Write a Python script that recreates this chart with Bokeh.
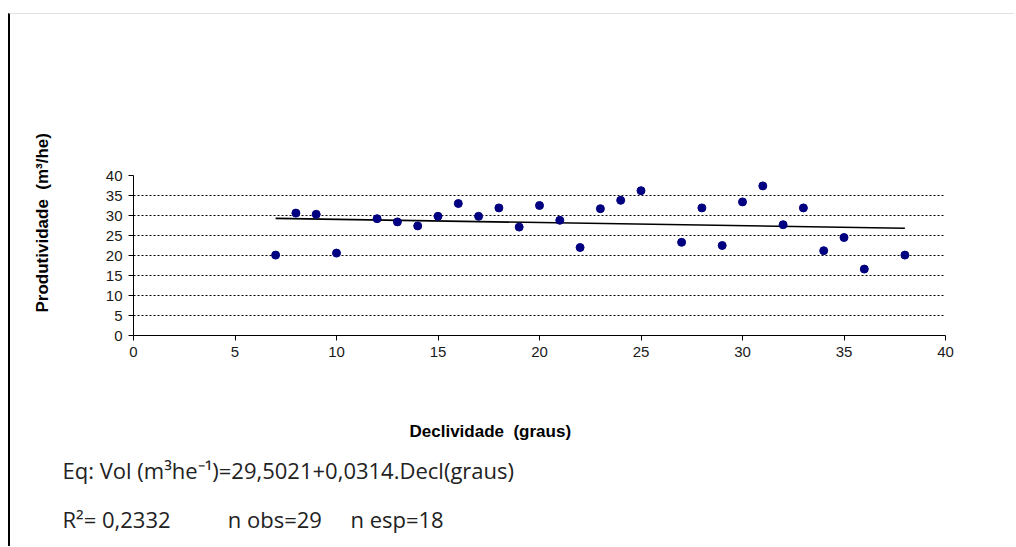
import numpy as np
from bokeh.plotting import figure
from bokeh.models import Title, FixedTicker
from bokeh.embed import file_html
from bokeh.resources import INLINE

declividade = [7, 8, 9, 10, 12, 13, 14, 15, 16, 17, 18, 19, 20, 21, 22, 23, 24, 25,
               27, 28, 29, 30, 31, 32, 33, 34, 35, 36, 38]
produtividade = [20.1, 30.6, 30.3, 20.6, 29.2, 28.4, 27.4, 29.8, 33.0, 29.8, 31.9, 27.1,
                 32.5, 28.8, 22.0, 31.7, 33.8, 36.2, 23.3, 31.9, 22.5, 33.4, 37.4, 27.7,
                 31.9, 21.2, 24.5, 16.6, 20.1]
x_ticks = [0, 5, 10, 15, 20, 25, 30, 35, 40]
y_ticks = [0, 5, 10, 15, 20, 25, 30, 35, 40]

# linear trend from the data
slope, intercept = np.polyfit(declividade, produtividade, 1)
trend_x = [min(declividade), max(declividade)]
trend_y = [intercept + slope * v for v in trend_x]

OX, OY = 10, 14   # page offset (left border line, top line)
W, H = 1016 - OX, 547 - OY
FL, FR, FT, FB = 133, 945, 175, 335  # frame position in window
p = figure(width=W, height=H, output_backend="svg", toolbar_location=None,
           x_range=(0, 40), y_range=(0, 40),
           min_border_left=FL - OX, min_border_right=1016 - FR,
           min_border_top=FT - OY, min_border_bottom=547 - FB)
p.styles = {"margin-left": "8px", "margin-top": "13px",
            "border-left": "2px solid black", "border-top": "1px solid #e2e2e2"}
p.outline_line_color = None
p.background_fill_color = "white"
p.border_fill_color = "white"

p.xgrid.grid_line_color = None
p.ygrid.grid_line_color = "black"
p.ygrid.grid_line_dash = "2 2"
p.ygrid.grid_line_width = 1
p.ygrid.ticker = FixedTicker(ticks=y_ticks)

for ax in (p.xaxis[0], p.yaxis[0]):
    ax.axis_line_color = "black"
    ax.major_tick_line_color = "black"
    ax.major_tick_in = 0
    ax.major_tick_out = 5
    ax.minor_tick_line_color = None
    ax.major_label_text_font = "Liberation Sans"
    ax.major_label_text_font_size = "15px"
    ax.major_label_text_color = "#1a1a1a"

p.xaxis.ticker = FixedTicker(ticks=x_ticks)
p.yaxis.ticker = FixedTicker(ticks=y_ticks)
p.yaxis.major_label_standoff = 6
p.xaxis.major_label_standoff = 6

p.line(trend_x, trend_y, line_color="black", line_width=1.6)
p.scatter(declividade, produtividade, size=8, fill_color="#000080", line_color="#000080")

NB = "\u00a0"
# invisible spacers to push the axis titles away from the axes
p.add_layout(Title(text=NB, text_font_size="10px", standoff=44), "below")
p.add_layout(Title(text=NB, text_font_size="10px", standoff=28), "left")

axis_title = dict(align="left", text_font="Liberation Sans", text_font_size="17px",
                  text_font_style="bold", text_color="black")
p.add_layout(Title(text="Declividade" + NB * 2 + "(graus)", offset=409 - FL,
                   standoff=6, **axis_title), "below")
p.add_layout(Title(text="Produtividade" + NB * 2 + "(m³/he)", offset=FB - 312,
                   standoff=20, **axis_title), "left")

tstyle = dict(align="left", text_font="Open Sans", text_font_size="22px",
              text_font_style="normal", text_color="#222222", offset=62 - FL)
p.add_layout(Title(text="Eq: Vol (m³he⁻¹)=29,5021+0,0314.Decl(graus)", standoff=19, **tstyle), "below")
p.add_layout(Title(text="R²= 0,2332" + NB * 10 + "n obs=29" + NB * 5 + "n esp=18",
                   standoff=14, **tstyle), "below")

open("out.html", "w").write(file_html(p, INLINE))
